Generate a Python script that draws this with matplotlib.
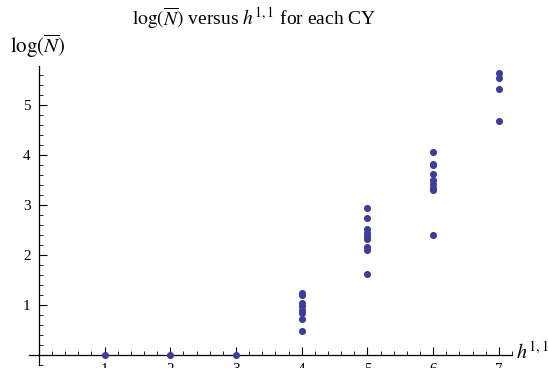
import matplotlib.pyplot as plt
from matplotlib.ticker import MultipleLocator, FixedLocator

plt.rcParams['font.family'] = 'serif'
plt.rcParams['font.serif'] = ['Liberation Serif', 'DejaVu Serif']
plt.rcParams['mathtext.fontset'] = 'stix'

# log(N bar) for each CY, grouped by h^{1,1}
h11 = [1, 2, 3, 4, 5, 6, 7]
log_n = {
    1: [0.0],
    2: [0.0],
    3: [0.0],
    4: [1.25, 1.2, 1.05, 0.98, 0.9, 0.85, 0.72, 0.48],
    5: [2.95, 2.75, 2.52, 2.45, 2.38, 2.33, 2.17, 2.1, 1.62],
    6: [4.07, 3.83, 3.8, 3.62, 3.5, 3.42, 3.35, 3.3, 2.4],
    7: [5.65, 5.55, 5.33, 4.68],
}
xticks = [1, 2, 3, 4, 5, 6, 7]
yticks = [1, 2, 3, 4, 5]

xs, ys = [], []
for h in h11:
    for v in log_n[h]:
        xs.append(h)
        ys.append(v)

fig = plt.figure(figsize=(5.48, 3.68), dpi=100)
ax = fig.add_axes([29 / 548, 3 / 368, 483 / 548, 299 / 368])

ax.scatter(xs, ys, s=26, color='#3d3d9c', zorder=3, clip_on=False, linewidths=0)

ax.set_xlim(-0.15, 7.2)
ax.set_ylim(-0.2, 5.78)

ax.spines['top'].set_visible(False)
ax.spines['right'].set_visible(False)
ax.spines['left'].set_position(('data', 0))
ax.spines['bottom'].set_position(('data', 0))
for sp in ['left', 'bottom']:
    ax.spines[sp].set_linewidth(0.9)

ax.xaxis.set_major_locator(FixedLocator(xticks))
ax.yaxis.set_major_locator(FixedLocator(yticks))
ax.xaxis.set_minor_locator(MultipleLocator(0.2))
ax.yaxis.set_minor_locator(MultipleLocator(0.2))
ax.tick_params(which='major', direction='in', length=6, width=0.8, labelsize=11, pad=6)
ax.tick_params(which='minor', direction='in', length=3, width=0.6)
ax.set_xticklabels([str(t) for t in xticks])
ax.set_yticklabels([str(t) for t in yticks])

fig.text(254 / 548, 0.952, r'$\log(\overline{N})$ versus $h^{1,1}$ for each CY',
         ha='center', va='center', fontsize=14)
fig.text(10 / 548, 0.875, r'$\log(\overline{N})$', ha='left', va='center', fontsize=15)
fig.text(516 / 548, 1 - 353 / 368, r'$h^{1,1}$', ha='left', va='center', fontsize=14.5)

fig.savefig('out.png', dpi=100)
